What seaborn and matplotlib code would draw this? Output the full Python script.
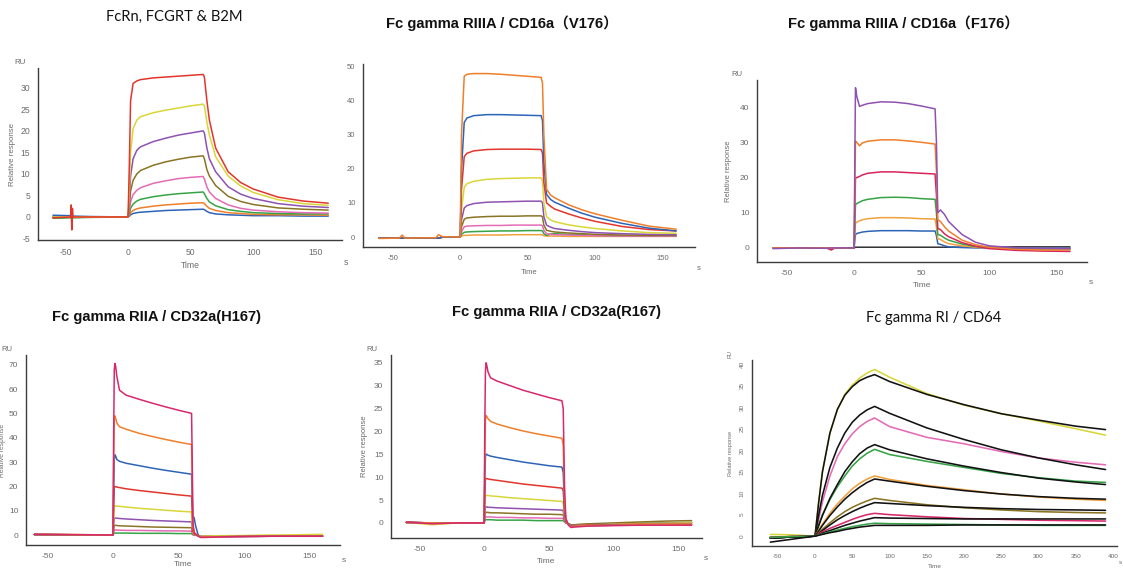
import numpy as np
import pandas as pd
import matplotlib
matplotlib.use("Agg")
import matplotlib.pyplot as plt
from matplotlib.ticker import MultipleLocator
import seaborn as sns

# ---------------- DATA ----------------
titles = ["FcRn, FCGRT & B2M", "Fc gamma RIIIA / CD16a（V176）", "Fc gamma RIIIA / CD16a（F176）",
          "Fc gamma RIIA / CD32a(H167)", "Fc gamma RIIA / CD32a(R167)", "Fc gamma RI / CD64"]

# Panel 1: FcRn
p1_time = [-60, -46, -45.5, -45, -44.5, -44, -30, 0, 1, 2, 4, 7, 10, 20, 30, 40, 50, 60, 61, 63, 65, 70, 80, 90, 100, 120, 140, 160]
p1_blue   = [0.4, 0.3, 0.3, 0.3, 0.3, 0.2, 0.1, 0, 0.2, 0.5, 0.8, 1.0, 1.1, 1.3, 1.5, 1.6, 1.7, 1.8, 1.7, 1.3, 1.0, 0.7, 0.5, 0.4, 0.3, 0.3, 0.2, 0.2]
p1_orange = [-0.2, -0.1, -0.1, -0.1, -0.1, -0.1, 0, 0, 0.4, 1.0, 1.5, 1.9, 2.1, 2.5, 2.8, 3.0, 3.2, 3.3, 3.1, 2.5, 2.0, 1.5, 1.0, 0.8, 0.6, 0.5, 0.5, 0.4]
p1_green  = [-0.3, -0.2, -0.2, -0.2, -0.2, -0.2, -0.1, 0, 0.8, 2.0, 3.0, 3.7, 4.1, 4.7, 5.1, 5.4, 5.6, 5.8, 5.4, 4.3, 3.5, 2.6, 1.7, 1.3, 1.0, 0.8, 0.7, 0.7]
p1_pink   = [0, 0, 0, 0, 0, 0, 0, 0, 1.5, 3.5, 5.2, 6.2, 6.8, 7.8, 8.4, 8.9, 9.2, 9.4, 8.8, 7.0, 5.8, 4.3, 2.8, 2.0, 1.6, 1.2, 1.0, 0.9]
p1_olive  = [0, 0, 0, 0, 0, 0, 0, 0, 2.5, 6.0, 8.5, 10.0, 10.8, 12.0, 12.8, 13.4, 13.9, 14.2, 13.5, 11.0, 9.5, 7.3, 4.8, 3.6, 2.9, 2.1, 1.8, 1.6]
p1_purple = [0, 0, 0, 0, 0, 0, 0, 0, 4.0, 9.5, 13.5, 15.5, 16.3, 17.5, 18.3, 19.0, 19.5, 20.0, 19.5, 16.0, 13.5, 10.5, 7.0, 5.3, 4.3, 3.1, 2.5, 2.2]
p1_yellow = [0, 0, 0, 0, 0, 0, 0, 0, 6.0, 15.0, 20.5, 22.5, 23.3, 24.2, 24.8, 25.3, 25.8, 26.2, 25.8, 22.0, 19.0, 14.0, 9.5, 7.2, 5.7, 4.0, 3.1, 2.7]
p1_red    = [-0.2, 0, 2.8, -3.0, 2.0, 0, 0, 0, 12.0, 27.0, 31.0, 31.6, 31.9, 32.3, 32.5, 32.7, 32.9, 33.1, 32.5, 27.0, 22.5, 16.0, 10.5, 8.0, 6.5, 4.6, 3.7, 3.2]

# Panel 2: CD16a V176
p2_time = [-60, -45, -43, -41, -18, -16, -13, 0, 1, 3, 5, 10, 20, 30, 40, 50, 60, 61, 62, 64, 67, 70, 80, 90, 100, 120, 140, 160]
p2_orange2 = [-0.3, -0.3, -0.3, -0.3, -0.3, -0.3, 0, 0, 0.3, 0.5, 0.5, 0.6, 0.6, 0.6, 0.7, 0.7, 0.7, 0.6, 0.4, 0.3, 0.3, 0.3, 0.2, 0.2, 0.2, 0.2, 0.2, 0.2]
p2_green   = [-0.3, -0.3, -0.3, -0.3, -0.3, -0.3, 0, 0, 0.8, 1.4, 1.5, 1.6, 1.7, 1.8, 1.8, 1.9, 1.9, 1.8, 1.0, 0.5, 0.9, 1.0, 0.8, 0.7, 0.5, 0.4, 0.3, 0.3]
p2_pink    = [-0.3, -0.3, -0.3, -0.3, -0.3, -0.3, 0, 0, 1.6, 3.0, 3.2, 3.3, 3.4, 3.4, 3.5, 3.5, 3.5, 3.3, 2.0, 1.0, 0.8, 0.7, 0.6, 0.5, 0.4, 0.3, 0.3, 0.3]
p2_olive   = [-0.3, -0.3, -0.3, -0.3, -0.3, -0.3, 0, 0, 3.0, 5.2, 5.6, 5.8, 6.0, 6.1, 6.1, 6.2, 6.2, 5.9, 3.5, 2.0, 1.7, 1.5, 1.2, 1.0, 0.8, 0.6, 0.5, 0.5]
p2_purple  = [-0.3, -0.3, -0.3, -0.3, -0.3, -0.3, 0, 0, 5.0, 8.5, 9.2, 9.8, 10.2, 10.3, 10.4, 10.5, 10.5, 10.0, 6.0, 3.5, 2.9, 2.5, 2.0, 1.6, 1.3, 1.0, 0.8, 0.7]
p2_yellow  = [-0.3, -0.3, -0.3, -0.3, -0.3, -0.3, 0, 0, 8.0, 14.5, 15.6, 16.3, 16.9, 17.1, 17.2, 17.3, 17.3, 16.5, 10.0, 6.0, 5.0, 4.5, 3.6, 3.0, 2.5, 1.8, 1.3, 1.1]
p2_red     = [-0.3, -0.3, -0.3, -0.3, -0.3, -0.3, 0, 0, 14.0, 23.5, 24.5, 25.2, 25.6, 25.7, 25.7, 25.7, 25.6, 24.5, 16.0, 10.0, 9.0, 8.2, 6.8, 5.6, 4.6, 3.1, 2.2, 1.8]
p2_blue    = [-0.3, -0.3, -0.3, -0.3, -0.3, -0.3, 0, 0, 20.0, 33.5, 34.8, 35.5, 35.8, 35.8, 35.7, 35.6, 35.5, 34.0, 22.0, 12.5, 11.0, 10.2, 8.5, 7.0, 5.8, 4.0, 2.6, 1.8]
p2_orange  = [-0.4, -0.3, 0.6, -0.3, -0.2, 0.7, 0.1, 0, 30.0, 47.0, 47.6, 47.8, 47.8, 47.6, 47.3, 47.0, 46.7, 45.0, 30.0, 14.0, 12.3, 11.5, 9.5, 8.0, 6.8, 4.9, 3.2, 2.3]

# Panel 3: CD16a F176
p3_time = [-60, -40, -20, -17, -14, 0, 0.5, 1, 2, 4, 6, 10, 20, 30, 40, 50, 60, 61, 62, 64, 67, 70, 80, 90, 100, 120, 140, 160]
p3_dark    = [0, 0, 0, 0, 0, 0, 0.1, 0.2, 0.2, 0.2, 0.2, 0.2, 0.2, 0.2, 0.2, 0.2, 0.2, 0.2, 0.2, 0.2, 0.2, 0.2, 0.2, 0.2, 0.2, 0.3, 0.3, 0.3]
p3_blue    = [-0.1, 0, 0, 0, 0, 0, 2.3, 3.8, 4.1, 4.3, 4.5, 4.7, 4.9, 4.9, 4.9, 4.8, 4.8, 3.5, 1.2, 1.0, 0.6, 0.3, 0.1, 0, 0, 0, 0, 0]
p3_orange2 = [0, 0, 0, 0, 0, 0, 4.0, 7.0, 7.3, 7.7, 8.0, 8.3, 8.6, 8.6, 8.5, 8.3, 8.2, 6.0, 2.6, 2.4, 1.7, 1.2, 0.6, 0.2, 0, -0.2, -0.2, -0.2]
p3_green   = [0, 0, 0, 0, 0, 0, 7.0, 12.3, 12.6, 13.0, 13.4, 13.8, 14.3, 14.4, 14.3, 14.0, 13.8, 10.0, 3.8, 3.6, 2.8, 2.2, 1.1, 0.4, 0, -0.3, -0.3, -0.3]
p3_red     = [0, 0, -0.1, -0.6, 0, 0, 11.0, 19.8, 20.0, 20.3, 20.7, 21.2, 21.6, 21.6, 21.4, 21.2, 21.0, 15.0, 5.5, 5.2, 4.0, 3.2, 1.5, 0.5, -0.2, -0.7, -0.9, -1.0]
p3_orange  = [0, 0, 0, 0, 0, 0, 17.0, 30.3, 30.0, 29.0, 29.8, 30.3, 30.7, 30.7, 30.4, 30.0, 29.5, 22.0, 8.0, 7.5, 6.0, 4.8, 2.2, 0.9, 0.2, -0.4, -0.6, -0.6]
p3_purple  = [-0.2, 0, -0.1, 0, 0, 0, 25.0, 45.5, 43.0, 40.2, 40.5, 41.0, 41.5, 41.4, 41.0, 40.3, 39.5, 30.0, 10.0, 10.8, 9.5, 7.5, 3.8, 1.6, 0.6, 0, -0.1, -0.2]

# Panel 4: CD32a H167
p4_time = [-60, -30, -1, 0, 0.5, 1, 1.5, 2, 3, 5, 10, 20, 30, 40, 50, 60, 60.5, 61, 62, 63, 65, 67, 70, 80, 100, 120, 140, 160]
p4_green   = [0.2, 0.1, 0, 0, 0.5, 0.8, 0.8, 0.8, 0.8, 0.8, 0.8, 0.7, 0.7, 0.7, 0.6, 0.6, 0.3, 0.1, 0, 0, -0.2, -0.5, -0.5, -0.5, -0.4, -0.4, -0.4, -0.4]
p4_pink    = [0.2, 0.1, 0, 0, 1.2, 2.0, 2.1, 2.1, 2.0, 2.0, 1.9, 1.9, 1.8, 1.7, 1.7, 1.6, 0.8, 0.2, 0, 0, -0.2, -0.5, -0.5, -0.5, -0.4, -0.4, -0.4, -0.4]
p4_olive   = [0.2, 0.1, 0, 0, 2.2, 3.8, 4.0, 4.0, 3.9, 3.8, 3.7, 3.5, 3.3, 3.2, 3.1, 3.0, 1.6, 0.4, 0.1, 0, -0.2, -0.6, -0.6, -0.5, -0.4, -0.4, -0.4, -0.4]
p4_purple  = [0.2, 0.1, 0, 0, 4.0, 6.8, 7.0, 7.0, 6.9, 6.8, 6.6, 6.3, 6.0, 5.8, 5.6, 5.4, 3.0, 0.6, 0.2, 0, -0.3, -0.6, -0.6, -0.5, -0.4, -0.4, -0.4, -0.4]
p4_yellow  = [0.3, 0.2, 0, 0, 6.5, 11.5, 12.0, 12.0, 11.9, 11.8, 11.5, 11.0, 10.6, 10.2, 9.8, 9.5, 5.0, 1.0, 0.3, 0.1, -0.2, -0.5, -0.5, -0.3, -0.2, 0, 0.1, 0.3]
p4_red     = [0.2, 0.1, 0, 0, 11.0, 19.5, 20.0, 19.9, 19.7, 19.5, 19.0, 18.3, 17.7, 17.1, 16.5, 16.0, 9.0, 1.5, 0.5, 0.2, -0.3, -0.8, -0.8, -0.7, -0.6, -0.5, -0.5, -0.5]
p4_blue    = [0.2, 0.1, 0, 0, 18.0, 31.0, 33.0, 32.5, 31.0, 30.3, 29.5, 28.5, 27.5, 26.6, 25.8, 25.0, 15.0, 8.0, 7.0, 4.0, 0, -0.8, -0.8, -0.7, -0.6, -0.5, -0.5, -0.5]
p4_orange  = [0.2, 0.1, 0, 0, 28.0, 48.0, 49.0, 48.0, 46.0, 44.5, 43.5, 41.8, 40.5, 39.3, 38.2, 37.2, 22.0, 3.5, 1.0, 0.5, -0.3, -0.8, -0.8, -0.7, -0.6, -0.5, -0.5, -0.5]
p4_magenta = [0.3, 0.2, 0, 0, 40.0, 68.0, 70.5, 69.5, 65.0, 59.5, 57.5, 55.8, 54.2, 52.7, 51.3, 50.0, 30.0, 5.0, 1.0, 0.5, -0.5, -1.0, -1.0, -0.8, -0.6, -0.5, -0.5, -0.5]

# Panel 5: CD32a R167
p5_time = [-60, -40, -20, -1, 0, 0.5, 1, 1.5, 2, 3, 5, 10, 20, 30, 40, 50, 60, 61, 62, 63, 65, 67, 70, 80, 100, 120, 140, 160]
p5_green   = [0.1, 0, 0, 0, 0, 0.4, 0.7, 0.7, 0.7, 0.7, 0.7, 0.6, 0.6, 0.6, 0.5, 0.5, 0.5, 0.5, 0.2, 0, -0.2, -0.4, -0.4, -0.3, -0.2, -0.1, 0, 0.1]
p5_pink    = [0.1, 0, 0, 0, 0, 0.8, 1.3, 1.3, 1.3, 1.3, 1.3, 1.2, 1.2, 1.1, 1.1, 1.0, 1.0, 0.9, 0.3, 0, -0.2, -0.5, -0.5, -0.4, -0.3, -0.2, -0.1, 0]
p5_olive   = [0.1, 0, 0, 0, 0, 1.3, 2.3, 2.3, 2.3, 2.3, 2.2, 2.2, 2.1, 2.0, 1.9, 1.9, 1.8, 1.7, 0.5, 0, -0.2, -0.5, -0.4, -0.2, 0, 0.2, 0.4, 0.5]
p5_purple  = [0.1, 0, 0, 0, 0, 2.0, 3.5, 3.5, 3.5, 3.4, 3.4, 3.3, 3.2, 3.1, 3.0, 2.9, 2.8, 2.6, 0.8, 0.1, -0.2, -0.6, -0.5, -0.4, -0.3, -0.2, -0.1, 0]
p5_yellow  = [0.1, -0.4, 0, 0, 0, 3.4, 5.9, 6.0, 6.0, 6.0, 5.9, 5.8, 5.5, 5.3, 5.1, 4.9, 4.7, 4.3, 1.3, 0.2, -0.3, -0.6, -0.6, -0.5, -0.3, -0.2, -0.1, 0]
p5_red     = [0.1, 0, 0, 0, 0, 5.5, 9.5, 9.7, 9.7, 9.6, 9.5, 9.3, 8.9, 8.5, 8.2, 7.9, 7.6, 7.0, 2.0, 0.3, -0.3, -0.6, -0.6, -0.5, -0.4, -0.3, -0.3, -0.3]
p5_blue    = [0.1, 0, 0, 0, 0, 8.5, 14.5, 15.0, 15.0, 14.8, 14.6, 14.3, 13.8, 13.3, 12.9, 12.5, 12.2, 11.0, 3.0, 0.5, -0.3, -0.7, -0.7, -0.6, -0.5, -0.4, -0.4, -0.4]
p5_orange  = [0.1, 0, 0, 0, 0, 13.0, 22.5, 23.5, 23.3, 22.8, 22.2, 21.6, 20.8, 20.1, 19.5, 19.0, 18.5, 17.0, 5.0, 0.8, -0.4, -0.8, -0.7, -0.6, -0.5, -0.4, -0.4, -0.4]
p5_magenta = [0.2, -0.2, 0, 0, 0, 20.0, 33.0, 35.0, 34.5, 33.0, 31.7, 31.0, 30.0, 29.0, 28.2, 27.4, 26.7, 25.0, 8.0, 1.0, -0.5, -1.0, -0.9, -0.7, -0.6, -0.5, -0.5, -0.5]

# Panel 6: CD64 (measured curves + fitted curves)
p6_time = [-60, -30, 0, 5, 10, 20, 30, 40, 50, 60, 70, 80, 100, 150, 200, 250, 300, 350, 390]
p6_yellow  = [0.4, 0.3, 0, 8.0, 15.0, 24.0, 29.5, 33.0, 35.2, 36.8, 38.0, 38.8, 37.0, 33.2, 30.5, 28.5, 26.8, 25.0, 23.5]
p6_fit1    = [-0.4, -0.2, 0, 8.0, 15.0, 24.0, 29.5, 32.8, 34.8, 36.2, 37.0, 37.6, 36.0, 33.0, 30.6, 28.5, 27.0, 25.6, 24.8]
p6_pink    = [-0.2, -0.1, 0, 4.0, 8.0, 14.0, 18.5, 21.5, 23.8, 25.5, 26.7, 27.5, 25.5, 23.0, 21.5, 19.7, 18.2, 17.2, 16.6]
p6_fit2    = [-0.4, -0.2, 0, 5.0, 9.5, 16.0, 20.5, 24.0, 26.5, 28.2, 29.4, 30.2, 28.6, 25.2, 22.5, 20.1, 18.2, 16.6, 15.5]
p6_green   = [-0.3, -0.1, 0, 2.5, 5.0, 8.5, 11.5, 14.0, 16.3, 18.0, 19.3, 20.2, 19.0, 17.4, 16.0, 14.6, 13.6, 12.8, 12.5]
p6_fit3    = [-0.4, -0.2, 0, 2.5, 4.8, 8.8, 12.0, 15.0, 17.3, 19.2, 20.5, 21.3, 20.1, 18.0, 16.3, 14.8, 13.5, 12.6, 12.0]
p6_orange  = [-0.3, -0.1, 0, 1.4, 2.8, 5.3, 7.5, 9.3, 11.0, 12.3, 13.3, 14.0, 13.2, 11.8, 10.8, 9.8, 9.1, 8.6, 8.3]
p6_fit4    = [-0.4, -0.2, 0, 1.2, 2.5, 4.8, 6.8, 8.6, 10.1, 11.4, 12.5, 13.3, 12.8, 11.6, 10.6, 9.8, 9.2, 8.8, 8.6]
p6_olive   = [-0.3, -0.1, 0, 0.8, 1.6, 3.1, 4.5, 5.7, 6.7, 7.5, 8.2, 8.8, 8.3, 7.3, 6.6, 6.1, 5.7, 5.5, 5.4]
p6_fit5    = [-0.4, -0.2, 0, 0.6, 1.3, 2.6, 3.8, 4.8, 5.7, 6.5, 7.2, 7.8, 7.6, 7.1, 6.7, 6.4, 6.2, 6.1, 6.0]
p6_magenta = [-0.3, -0.1, 0, 0.5, 1.0, 1.8, 2.5, 3.2, 3.9, 4.5, 5.0, 5.3, 5.0, 4.5, 4.1, 3.9, 3.7, 3.6, 3.5]
p6_fit6    = [-0.4, -0.2, 0, 0.3, 0.7, 1.3, 1.9, 2.5, 3.0, 3.5, 3.9, 4.3, 4.2, 4.1, 4.0, 4.0, 4.0, 4.0, 4.0]
p6_green2  = [-0.3, -0.1, 0, 0.3, 0.5, 1.0, 1.4, 1.8, 2.2, 2.5, 2.8, 3.0, 2.9, 2.8, 2.7, 2.6, 2.5, 2.5, 2.5]
p6_fit7    = [-1.4, -0.7, 0, 0.2, 0.4, 0.8, 1.1, 1.5, 1.8, 2.1, 2.3, 2.5, 2.5, 2.5, 2.6, 2.6, 2.6, 2.6, 2.6]

# ---------------- STYLE ----------------
C = dict(red="#e2352c", yellow="#d9d63a", purple="#8f52b0", olive="#8a7424", pink="#e46bb5",
         green="#35a346", orange="#ef7f2a", blue="#2d64b8", magenta="#d8286d", dark="#333333",
         orange2="#f0a03c", black="#111111", crimson="#d8245a")

panels = [
    dict(time=p1_time, curves=[("blue", p1_blue), ("orange", p1_orange), ("green", p1_green), ("pink", p1_pink),
                               ("olive", p1_olive), ("purple", p1_purple), ("yellow", p1_yellow), ("red", p1_red)],
         box=(38, 342, 68, 240), xlim=(-72, 171), ylim=(-5.35, 34.6), xmaj=50, xmin=25, ymaj=5, ymin=2.5,
         title_xy=(174, 17), title_style="calibri", ylabels=True, fs=6.2, time_y=-0.15, ylab_x=-0.085),
    dict(time=p2_time, curves=[("orange2", p2_orange2), ("green", p2_green), ("pink", p2_pink), ("olive", p2_olive),
                               ("purple", p2_purple), ("yellow", p2_yellow), ("red", p2_red), ("blue", p2_blue),
                               ("orange", p2_orange)],
         box=(363, 695, 64, 247), xlim=(-72, 174), ylim=(-2.9, 50.6), xmaj=50, xmin=25, ymaj=10, ymin=5,
         title_xy=(502, 23), title_style="arial", ylabels=False, fs=5.5, time_y=-0.14, ylab_x=-0.085),
    dict(time=p3_time, curves=[("dark", p3_dark), ("blue", p3_blue), ("orange2", p3_orange2), ("green", p3_green),
                               ("crimson", p3_red), ("orange", p3_orange), ("purple", p3_purple)],
         box=(757, 1087, 80, 262), xlim=(-72, 172.6), ylim=(-4.0, 47.7), xmaj=50, xmin=25, ymaj=10, ymin=5,
         title_xy=(903, 23), title_style="arial", ylabels=True, fs=6.0, time_y=-0.13, ylab_x=-0.085),
    dict(time=p4_time, curves=[("green", p4_green), ("pink", p4_pink), ("olive", p4_olive), ("purple", p4_purple),
                               ("yellow", p4_yellow), ("red", p4_red), ("blue", p4_blue), ("orange", p4_orange),
                               ("magenta", p4_magenta)],
         box=(26, 340, 355, 545), xlim=(-66.4, 173.3), ylim=(-4.1, 74), xmaj=50, xmin=25, ymaj=10, ymin=5,
         title_xy=(156, 317), title_style="arial", ylabels=True, fs=6.0, time_y=-0.10, ylab_x=-0.074),
    dict(time=p5_time, curves=[("green", p5_green), ("pink", p5_pink), ("olive", p5_olive), ("purple", p5_purple),
                               ("yellow", p5_yellow), ("red", p5_red), ("blue", p5_blue), ("orange", p5_orange),
                               ("magenta", p5_magenta)],
         box=(391, 702, 355, 538), xlim=(-71.8, 168), ylim=(-3.3, 36.7), xmaj=50, xmin=25, ymaj=5, ymin=2.5,
         title_xy=(557, 312), title_style="arial", ylabels=True, fs=6.0, time_y=-0.13, ylab_x=-0.085),
    dict(time=p6_time, curves=[("yellow", p6_yellow), ("black", p6_fit1), ("pink", p6_pink), ("black", p6_fit2),
                               ("green", p6_green), ("black", p6_fit3), ("orange2", p6_orange), ("black", p6_fit4),
                               ("olive", p6_olive), ("black", p6_fit5), ("magenta", p6_magenta), ("black", p6_fit6),
                               ("green", p6_green2), ("black", p6_fit7)],
         box=(752, 1117, 360, 546), xlim=(-84.6, 405.4), ylim=(-2.3, 41), xmaj=50, xmin=25, ymaj=5, ymin=2.5,
         title_xy=(934, 318), title_style="calibri", ylabels=True, fs=4.6, time_y=-0.11, ylab_x=-0.06),
]

W, H = 1123, 573
sns.set_style("white")
plt.rcParams["font.family"] = ["Liberation Sans", "Noto Sans CJK SC", "DejaVu Sans"]
plt.rcParams["axes.unicode_minus"] = False
fig = plt.figure(figsize=(W / 100, H / 100), dpi=100)

TICKC = "#6b6b6b"
SPINEC = "#3c3c3c"

for i, p in enumerate(panels):
    l, r, t, b = p["box"]
    ax = fig.add_axes([l / W, 1 - b / H, (r - l) / W, (b - t) / H])
    rows = []
    for k, (cname, vals) in enumerate(p["curves"]):
        for tt, vv in zip(p["time"], vals):
            rows.append((tt, vv, f"{k:02d}_{cname}"))
    df = pd.DataFrame(rows, columns=["t", "y", "curve"])
    order = [f"{k:02d}_{c}" for k, (c, _) in enumerate(p["curves"])]
    pal = {f"{k:02d}_{c}": C[c] for k, (c, _) in enumerate(p["curves"])}
    lw = 1.1 if i < 5 else 1.15
    sns.lineplot(data=df, x="t", y="y", hue="curve", hue_order=order, palette=pal, estimator=None,
                 sort=False, legend=False, lw=lw, ax=ax)
    ax.set_xlim(*p["xlim"])
    ax.set_ylim(*p["ylim"])
    ax.set_facecolor("none")
    for s in ["top", "right"]:
        ax.spines[s].set_visible(False)
    for s in ["left", "bottom"]:
        ax.spines[s].set_color(SPINEC)
        ax.spines[s].set_linewidth(1.0)
    ax.xaxis.set_major_locator(MultipleLocator(p["xmaj"]))
    ax.xaxis.set_minor_locator(MultipleLocator(p["xmin"]))
    ax.yaxis.set_major_locator(MultipleLocator(p["ymaj"]))
    ax.yaxis.set_minor_locator(MultipleLocator(p["ymin"]))
    ax.tick_params(which="major", direction="out", length=2.5, width=0.8, color=SPINEC,
                   labelsize=p["fs"], labelcolor=TICKC, pad=3)
    ax.tick_params(which="minor", direction="in", length=2.5, width=0.8, color=SPINEC)
    ax.set_xlabel("")
    ax.set_ylabel("")
    if i == 5:
        for lab in ax.get_yticklabels():
            lab.set_rotation(90)
            lab.set_va("center")
    # axis annotations
    fsz = p["fs"]
    ax.text(0.5, p["time_y"], "Time", transform=ax.transAxes, ha="center", va="center",
            fontsize=fsz, color=TICKC)
    ax.text(1.005, p["time_y"] + 0.02, "s", transform=ax.transAxes, ha="left", va="center", fontsize=fsz,
            color=TICKC)
    if p["ylabels"]:
        ax.text(-0.06, 1.01, "RU", transform=ax.transAxes, ha="center", va="bottom", fontsize=fsz - 0.5,
                color=TICKC, rotation=90 if i == 5 else 0)
        ax.text(p["ylab_x"], 0.5, "Relative response",
                transform=ax.transAxes, ha="center", va="center", rotation=90,
                fontsize=fsz - 0.5 if i != 3 else fsz - 1.2, color=TICKC)
    # titles
    tx, ty = p["title_xy"]
    if p["title_style"] == "calibri":
        fig.text(tx / W, 1 - ty / H, titles[i], ha="center", va="center", fontsize=10.6,
                 family=["Lato", "DejaVu Sans"], color="#111111")
    else:
        fig.text(tx / W, 1 - ty / H, titles[i], ha="center", va="center", fontsize=10.6, fontweight="bold",
                 family=["Liberation Sans", "Noto Sans CJK SC"], color="#111111")

fig.savefig("out.png", dpi=100, facecolor="white")
